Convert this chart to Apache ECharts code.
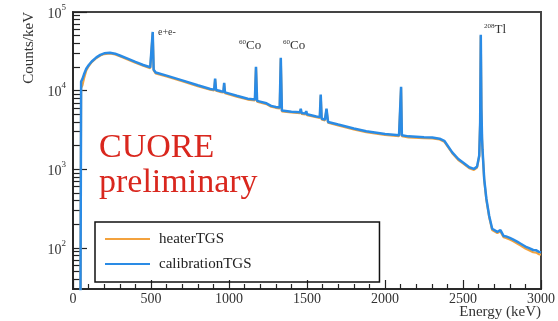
<!DOCTYPE html>
<html><head><meta charset="utf-8">
<script src="https://cdn.jsdelivr.net/npm/echarts@6/dist/echarts.min.js"></script>
<style>html,body{margin:0;padding:0;background:#fff}#c{width:558px;height:321px}</style>
</head><body><div id="c"></div>
<script>
// Energy bins (keV)
const energy = [48,52,60,70,85,100,120,150,175,200,237,270,300,350,400,450,495,505,511,517,530,600,700,800,880,905,911,917,950,964,969,974,1050,1120,1166,1173,1180,1240,1270,1300,1325,1332,1339,1400,1455,1460,1465,1490,1495,1500,1560,1582,1588,1594,1615,1625,1635,1700,1800,1880,2000,2090,2098,2103,2108,2150,2250,2303,2350,2380,2431,2470,2500,2540,2570,2590,2604,2610,2614,2618,2622,2625,2636,2650,2668,2687,2720,2740,2760,2776,2800,2820,2830,2850,2870,2879,2900,2920,2930,2950,2970,2987,3000];
// calibrationTGS counts/keV
const calibrationTGS = [20,13000,14000,16000,19000,21000,23500,26500,28500,29800,30300,29500,28000,25500,23200,21200,19800,20000,55800,18500,17000,15500,13500,11700,10500,10300,14200,10200,9800,9700,12600,9500,8600,7900,7700,20100,7400,6900,6400,6200,6100,26200,5600,5400,5300,5900,5200,5100,5500,5000,4700,4600,8900,4400,4300,5900,4000,3700,3300,3050,2800,2700,2750,11200,2700,2620,2560,2540,2450,2300,1640,1350,1220,1060,1010,1080,1500,4000,51200,6000,2500,1800,750,420,254,175,160,168,142,140,134,128,124,119,113,107,104,100,98,94,93,89,88];
// heaterTGS counts/keV
const heaterTGS = [20,10800,11600,14200,18000,20400,23000,26000,28000,29200,29700,28900,27400,24900,22700,20700,19300,19500,54000,18100,16600,15100,13200,11400,10250,10050,13900,9950,9560,9460,12300,9270,8400,7700,7500,19600,7220,6730,6250,6050,5950,25500,5460,5270,5170,5750,5070,4970,5360,4880,4590,4490,8680,4290,4190,5750,3900,3610,3220,2970,2730,2630,2680,10900,2630,2550,2490,2470,2390,2240,1600,1310,1190,1030,980,1050,1460,3900,50000,5850,2430,1750,730,405,246,169,154,162,137,134,128,122,118,113,107,101,98,94,92,88,87,83,82];
// axis tick labels
const xTicks = [0,500,1000,1500,2000,2500,3000];
const yDecades = [100,1000,10000,100000];
const yMinor = [40,50,60,70,80,90,200,300,400,500,600,700,800,900,2000,3000,4000,5000,6000,7000,8000,9000,20000,30000,40000,50000,60000,70000,80000,90000];

const pair = (ys) => energy.map((e,i)=>[e, ys[i]]);
const serif = 'Liberation Serif';
const chart = echarts.init(document.getElementById('c'), null, {renderer:'canvas'});
chart.setOption({
  animation:false,
  backgroundColor:'#fff',
  grid:{left:73,right:16,top:12,bottom:32,show:true,borderColor:'#444',borderWidth:2,containLabel:false},
  xAxis:{type:'value',min:0,max:3000,interval:500,
    axisLine:{show:true,lineStyle:{color:'#222',width:1.5}},
    axisTick:{show:true,inside:true,length:9,lineStyle:{color:'#222',width:1.2}},
    minorTick:{show:true,splitNumber:5,length:5,lineStyle:{color:'#222',width:1.2}},
    splitLine:{show:false},
    axisLabel:{customValues:xTicks,formatter:(v)=>String(v),fontFamily:serif,fontSize:14,color:'#333',margin:3,showMaxLabel:true,showMinLabel:true}},
  yAxis:[{type:'log',logBase:10,min:30,max:100000,
    axisLine:{show:true,lineStyle:{color:'#222',width:1.5}},
    axisTick:{show:true,inside:true,length:14,lineStyle:{color:'#222',width:1.2},customValues:yDecades},
    splitLine:{show:false},
    axisLabel:{customValues:yDecades,margin:7,
      formatter:(v)=>{const p=Math.round(Math.log10(v)); return Math.abs(Math.log10(v)-p)<1e-6?'{b|10}{s|'+p+'}':'';},
      rich:{b:{fontFamily:serif,fontSize:14,color:'#333',lineHeight:18,verticalAlign:'bottom'},
            s:{fontFamily:serif,fontSize:9,color:'#333',lineHeight:18,verticalAlign:'top',padding:[0,0,6,0]}}}},
   {type:'log',logBase:10,min:30,max:100000,position:'left',
    axisLine:{show:false},
    axisTick:{show:true,inside:true,length:7,lineStyle:{color:'#222',width:1.2},customValues:yMinor},
    axisLabel:{show:false},splitLine:{show:false}}],
  legend:{left:95,top:222,orient:'vertical',itemGap:9,itemWidth:45,itemHeight:2,icon:'rect',
    borderColor:'#111',borderWidth:1.5,padding:[9,128,10,10],
    textStyle:{fontFamily:serif,fontSize:15,color:'#222',padding:[0,0,0,4],lineHeight:16},
    data:['heaterTGS','calibrationTGS']},
  series:[
    {name:'heaterTGS',type:'line',data:pair(heaterTGS),symbol:'none',lineStyle:{color:'#f3a23d',width:2.2},itemStyle:{color:'#f3a23d'},z:2},
    {name:'calibrationTGS',type:'line',data:pair(calibrationTGS),symbol:'none',lineStyle:{color:'#2a8be5',width:2.5},itemStyle:{color:'#2a8be5'},z:3}
  ],
  graphic:[
    {type:'text',x:29,y:12,rotation:Math.PI/2,style:{text:'Counts/keV',fontFamily:serif,fontSize:15,fill:'#333',align:'right',verticalAlign:'middle'}},
    {type:'text',x:541,y:305,style:{text:'Energy (keV)',fontFamily:serif,fontSize:15,fill:'#333',align:'right',verticalAlign:'top'}},
    {type:'text',x:99,y:131,style:{text:'CUORE',fontFamily:serif,fontSize:34,fill:'#d9271e'}},
    {type:'text',x:99,y:166,style:{text:'preliminary',fontFamily:serif,fontSize:34,fill:'#d9271e'}},
    {type:'text',x:158,y:27,style:{text:'e+e-',fontFamily:serif,fontSize:10,fill:'#333'}},
    {type:'text',x:239,y:39,style:{text:'{s|60}{b|Co}',rich:{s:{fontFamily:serif,fontSize:7,fill:'#333',verticalAlign:'top',lineHeight:14},b:{fontFamily:serif,fontSize:13,fill:'#333',lineHeight:14}}}},
    {type:'text',x:283,y:39,style:{text:'{s|60}{b|Co}',rich:{s:{fontFamily:serif,fontSize:7,fill:'#333',verticalAlign:'top',lineHeight:14},b:{fontFamily:serif,fontSize:13,fill:'#333',lineHeight:14}}}},
    {type:'text',x:484,y:23,style:{text:'{s|208}{b|Tl}',rich:{s:{fontFamily:serif,fontSize:7,fill:'#333',verticalAlign:'top',lineHeight:14},b:{fontFamily:serif,fontSize:13,fill:'#333',lineHeight:14}}}}
  ]
});
</script></body></html>
